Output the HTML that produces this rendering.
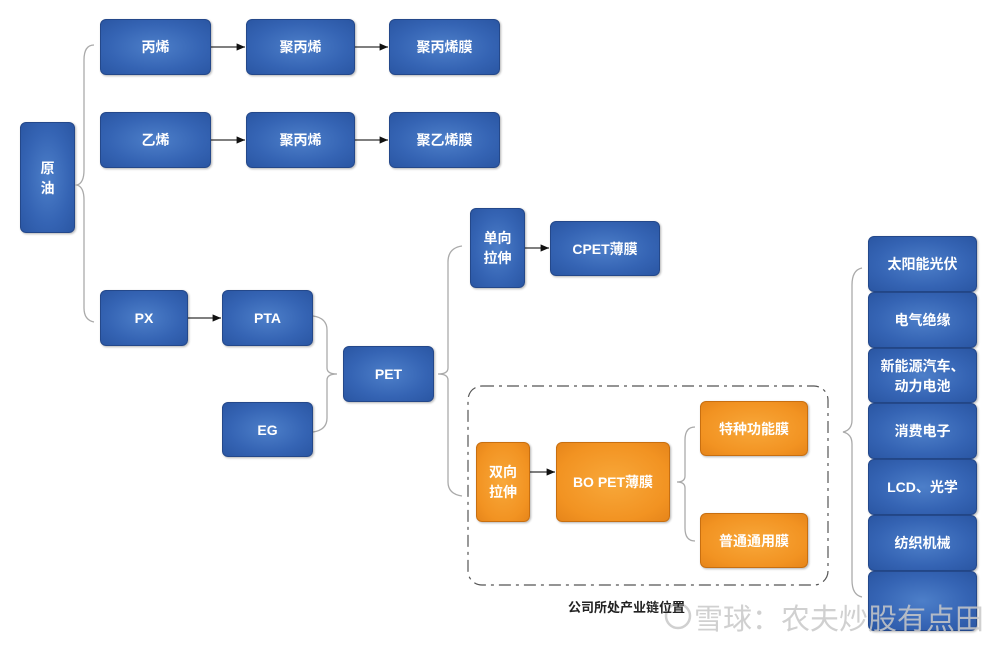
<!DOCTYPE html>
<html><head><meta charset="utf-8"><style>
body{margin:0;width:1005px;height:648px;background:#fff;position:relative;overflow:hidden;font-family:"Liberation Sans","Noto Sans CJK SC",sans-serif}
.b{position:absolute;box-sizing:border-box;border-radius:6px;display:flex;align-items:center;justify-content:center;text-align:center;color:#fff;font-weight:bold;font-size:14px;line-height:20px;
background:radial-gradient(ellipse at center,#4d7fc9 0%,#3564b4 60%,#2a56a3 100%);border:1px solid #24488a;box-shadow:1px 1px 2px rgba(0,0,0,.3)}
.o{background:radial-gradient(ellipse at center,#f8a83a 0%,#f29322 70%,#e6851a 100%);border:1px solid #c86f10}
svg{position:absolute;left:0;top:0}
</style></head><body>
<svg width="1005" height="648" fill="none">
<defs><marker id="a" markerWidth="8" markerHeight="8" refX="7" refY="4" orient="auto"><path d="M0,1 L7,4 L0,7z" fill="#111"/></marker></defs>
<g stroke="#333" stroke-width="1.2" marker-end="url(#a)">
<line x1="211" y1="47" x2="245" y2="47"/><line x1="355" y1="47" x2="388" y2="47"/>
<line x1="211" y1="140" x2="245" y2="140"/><line x1="355" y1="140" x2="388" y2="140"/>
<line x1="188" y1="318" x2="221" y2="318"/>
<line x1="525" y1="248" x2="549" y2="248"/>
<line x1="530" y1="472" x2="555" y2="472"/>
</g>
<g stroke="#aaa" stroke-width="1.3">
<path d="M94,45 Q84,45 84,60 L84,170 Q84,183 77,185 Q84,187 84,200 L84,308 Q84,320 94,322"/>
<path d="M313,316 Q327,318 327,330 L327,368 Q327,374 337,374 Q327,374 327,380 L327,418 Q327,430 313,432"/>
<path d="M462,246 Q448,248 448,262 L448,368 Q448,374 438,374 Q448,374 448,380 L448,482 Q448,494 462,496"/>
<path d="M695,427 Q685,427 685,440 L685,476 Q685,482 677,482 Q685,482 685,488 L685,528 Q685,541 695,541"/>
<path d="M862,268 Q852,270 852,285 L852,420 Q852,430 843,432 Q852,434 852,444 L852,580 Q852,595 862,597"/>
</g>
<rect x="468" y="386" width="360" height="199" rx="14" stroke="#555" stroke-width="1.2" stroke-dasharray="12,5,3,5"/>
<circle cx="678" cy="616" r="12" stroke="rgba(200,200,200,.85)" stroke-width="2.5"/>
</svg>
<div class="b" style="left:20px;top:122px;width:55px;height:111px">原<br>油</div>
<div class="b" style="left:100px;top:19px;width:111px;height:56px">丙烯</div>
<div class="b" style="left:246px;top:19px;width:109px;height:56px">聚丙烯</div>
<div class="b" style="left:389px;top:19px;width:111px;height:56px">聚丙烯膜</div>
<div class="b" style="left:100px;top:112px;width:111px;height:56px">乙烯</div>
<div class="b" style="left:246px;top:112px;width:109px;height:56px">聚丙烯</div>
<div class="b" style="left:389px;top:112px;width:111px;height:56px">聚乙烯膜</div>
<div class="b" style="left:100px;top:290px;width:88px;height:56px">PX</div>
<div class="b" style="left:222px;top:290px;width:91px;height:56px">PTA</div>
<div class="b" style="left:222px;top:402px;width:91px;height:55px">EG</div>
<div class="b" style="left:343px;top:346px;width:91px;height:56px">PET</div>
<div class="b" style="left:470px;top:208px;width:55px;height:80px">单向<br>拉伸</div>
<div class="b" style="left:550px;top:221px;width:110px;height:55px">CPET薄膜</div>
<div class="b o" style="left:476px;top:442px;width:54px;height:80px">双向<br>拉伸</div>
<div class="b o" style="left:556px;top:442px;width:114px;height:80px">BO PET薄膜</div>
<div class="b o" style="left:700px;top:401px;width:108px;height:55px">特种功能膜</div>
<div class="b o" style="left:700px;top:513px;width:108px;height:55px">普通通用膜</div>
<div class="b" style="left:868px;top:236px;width:109px;height:56px">太阳能光伏</div>
<div class="b" style="left:868px;top:292px;width:109px;height:56px">电气绝缘</div>
<div class="b" style="left:868px;top:348px;width:109px;height:55px">新能源汽车、<br>动力电池</div>
<div class="b" style="left:868px;top:403px;width:109px;height:56px">消费电子</div>
<div class="b" style="left:868px;top:459px;width:109px;height:56px">LCD、光学</div>
<div class="b" style="left:868px;top:515px;width:109px;height:56px">纺织机械</div>
<div class="b" style="left:868px;top:571px;width:109px;height:60px"></div>
<div style="position:absolute;left:568px;top:597px;font-size:13px;font-weight:bold;color:#222">公司所处产业链位置</div>
<div style="position:absolute;left:694px;top:596px;font-size:29px;color:rgba(200,200,200,.85);letter-spacing:0px">雪球：农夫炒股有点田</div>
</body></html>
